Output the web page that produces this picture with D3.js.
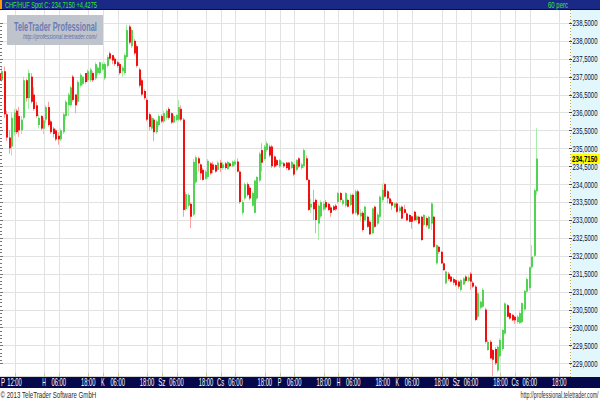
<!DOCTYPE html>
<html><head><meta charset="utf-8">
<script src="https://cdn.jsdelivr.net/npm/d3@7"></script>
<style>html,body{margin:0;padding:0;background:#fff;overflow:hidden}</style>
</head><body><svg id="c" width="600" height="400"></svg>
<script>
// ---------- DATA ----------
const titleText = "CHF/HUF Spot C: 234,7150 +4,4275";
const periodText = "60 perc";
const lastPrice = 234.715;
const FIRST_HOUR = 6; // hourly bars, trading hours counted from Friday 00:00 (weekend removed)

const open = [
237.10,236.90,237.15,235.95,235.30,235.05,235.45,236.05,235.90,235.50,235.85,236.90,236.40,237.00,236.50,236.20,235.65,235.90,
235.55,235.80,236.15,235.75,235.55,235.50,235.35,235.25,235.45,235.90,236.20,236.20,237.00,236.50,236.30,236.75,236.80,237.10,236.90,236.90,237.10,236.95,237.10,237.10,
237.20,236.95,237.30,237.65,237.60,237.50,237.40,
237.35,237.15,237.10,237.55,238.40,237.85,238.00,237.85,237.20,236.90,236.60,236.35,235.95,235.55,235.80,235.45,235.65,235.90,235.75,235.85,236.10,235.98,235.72,235.79,235.80,236.10,
235.80,233.30,233.40,233.45,233.15,234.05,234.72,234.55,234.40,234.15,234.20,234.58,234.55,234.53,234.40,234.60,234.45,234.58,234.42,234.58,234.50,234.55,234.63,234.35,
233.20,233.60,234.00,233.90,233.40,233.20,233.60,234.10,234.95,234.70,234.95,235.05,235.05,234.77,234.67,234.49,234.60,234.58,234.60,234.60,234.45,234.55,234.40,234.72,
234.45,234.50,234.72,234.12,233.35,233.50,233.56,232.90,233.10,233.30,233.50,233.45,233.35,233.38,233.40,233.50,233.75,233.45,233.40,233.56,
233.42,233.70,233.20,233.80,233.10,233.20,232.99,233.09,232.95,232.63,233.37,232.90,233.09,233.56,234.00,233.80,233.60,233.50,233.35,233.46,
233.25,233.37,233.30,233.18,233.14,233.10,233.23,233.00,233.09,233.09,232.86,233.05,232.76,232.90,233.09,231.79,232.25,232.11,231.79,231.23,
231.50,231.42,231.35,231.32,231.28,231.05,231.20,231.42,231.30,231.50,231.25,231.14,230.30,230.55,230.58,230.50,229.37,229.60,229.37,229.40,
228.80,229.20,229.40,229.83,230.62,230.40,230.35,230.30,230.15,230.12,230.15,230.50,231.00,231.10,231.68,232.00,233.80];

const high = [
237.25,237.30,237.28,236.05,235.50,236.00,236.10,236.10,236.16,235.90,237.00,236.95,237.20,237.10,236.70,236.30,235.95,235.93,
235.85,236.20,236.30,235.80,235.60,235.55,235.45,235.55,236.00,236.35,236.55,236.75,237.05,236.50,236.90,237.10,237.00,237.10,237.20,237.25,237.15,237.40,237.30,237.42,
237.40,237.40,237.60,237.70,237.60,237.55,237.45,
237.40,237.30,237.65,238.45,238.45,238.35,238.05,237.90,237.25,236.95,236.65,236.40,236.00,235.90,235.85,235.80,235.95,235.95,236.05,236.10,236.15,236.00,235.95,235.95,236.35,236.20,
235.85,233.78,233.75,233.50,234.70,234.80,234.77,234.58,234.45,234.40,234.70,234.62,234.63,234.55,234.65,234.68,234.62,234.62,234.65,234.60,234.66,234.68,234.72,234.38,
233.56,234.05,234.05,233.95,233.80,234.12,234.22,234.90,235.14,235.10,235.20,235.10,235.10,234.80,234.70,234.70,234.65,234.62,234.62,234.62,234.65,234.58,234.70,234.75,
234.60,235.00,234.80,234.15,233.60,233.84,233.60,233.46,233.55,233.52,233.56,233.48,233.40,233.42,233.45,233.78,233.78,233.60,233.78,233.60,
233.74,233.74,233.85,233.85,233.30,233.25,233.40,233.12,232.98,233.35,233.40,233.20,233.68,234.02,234.02,233.84,233.63,233.56,233.50,233.50,
233.40,233.40,233.42,233.22,233.16,233.12,233.26,233.15,233.12,233.12,233.16,233.10,233.12,233.50,233.12,232.32,232.28,232.14,231.82,231.58,
231.55,231.45,231.40,231.35,231.32,231.35,231.40,231.46,231.45,231.55,231.30,231.18,230.98,230.75,231.10,230.55,229.65,229.65,229.40,229.45,
229.50,229.70,229.96,230.70,230.65,230.42,230.38,230.32,230.35,230.45,230.70,231.05,231.40,231.70,232.30,233.88,235.56];

const low = [
236.80,236.85,235.85,235.20,234.85,234.80,235.35,235.40,235.32,235.40,235.80,236.30,236.10,236.25,236.05,235.85,235.55,235.50,
235.40,235.70,235.60,235.40,235.30,235.20,235.10,235.20,235.40,235.80,235.90,236.15,236.30,235.98,236.25,236.70,236.75,236.80,236.85,236.85,236.85,236.90,237.05,237.05,
237.15,236.90,237.25,237.45,237.35,237.30,237.25,
237.05,237.00,237.05,237.50,237.90,237.80,237.60,237.25,236.70,236.45,236.35,235.75,235.50,235.50,235.20,235.40,235.60,235.70,235.70,235.80,235.80,235.68,235.70,235.75,235.75,235.75,
233.09,233.25,233.35,232.77,233.10,234.00,234.35,234.12,234.10,234.12,234.15,234.25,234.30,234.32,234.38,234.33,234.40,234.40,234.40,234.47,234.47,234.50,234.33,233.45,
233.13,233.55,233.65,233.55,233.37,233.18,233.55,234.05,234.35,234.65,234.90,234.75,234.45,234.45,234.50,234.45,234.55,234.45,234.40,234.38,234.42,234.22,234.35,234.45,
234.40,234.45,234.10,233.25,233.20,233.00,232.63,232.44,233.05,233.25,233.28,233.25,233.09,233.25,233.25,233.45,233.50,233.40,233.35,233.35,
233.38,233.15,233.15,233.10,232.95,232.68,232.95,232.78,232.58,232.60,232.78,232.85,233.05,233.50,233.62,233.46,233.44,233.28,233.32,233.20,
233.20,233.02,233.18,232.97,232.93,232.76,232.97,232.95,232.88,232.42,232.82,232.80,232.74,232.72,232.22,231.75,232.05,231.77,231.58,231.20,
231.30,231.26,231.18,231.14,231.08,231.00,231.18,231.25,231.26,231.05,231.10,230.18,230.25,230.50,230.55,229.55,229.35,229.12,228.62,228.95,
228.75,229.15,229.35,229.80,230.28,230.22,230.18,230.10,230.10,230.10,230.12,230.45,230.95,231.04,231.62,231.95,233.70];

const close = [
236.90,237.15,235.95,235.30,235.00,235.85,236.00,235.45,235.50,235.80,236.90,236.40,237.10,236.30,236.10,235.90,235.85,235.55,
235.78,236.15,235.65,235.45,235.40,235.25,235.25,235.50,235.95,236.30,236.50,236.70,236.35,236.20,236.85,237.05,237.00,236.85,237.15,237.20,236.90,237.35,237.25,237.40,
237.35,237.35,237.55,237.50,237.45,237.35,237.30,
237.10,237.25,237.60,238.30,237.95,238.30,237.65,237.30,236.75,236.50,236.40,235.80,235.60,235.85,235.45,235.75,235.90,235.75,235.98,236.05,235.85,235.72,235.90,235.93,236.15,235.80,
233.28,233.72,233.70,233.09,234.62,234.75,234.58,234.30,234.12,234.35,234.65,234.30,234.40,234.35,234.60,234.45,234.55,234.45,234.62,234.50,234.63,234.63,234.35,233.50,
233.50,234.00,233.70,233.60,233.75,234.10,234.20,234.85,234.60,235.05,235.14,234.80,234.50,234.49,234.53,234.67,234.60,234.50,234.45,234.40,234.62,234.27,234.67,234.49,
234.55,234.95,234.12,233.28,233.45,233.30,233.00,233.40,233.50,233.45,233.35,233.28,233.20,233.28,233.30,233.75,233.56,233.55,233.75,233.37,
233.70,233.18,233.80,233.15,233.20,232.72,233.37,232.81,232.60,233.32,232.81,233.15,233.65,233.84,233.65,233.60,233.46,233.40,233.46,233.23,
233.35,233.04,233.20,232.99,232.95,232.95,232.99,233.10,232.90,232.44,233.14,232.85,233.09,233.46,232.25,232.30,232.11,231.79,231.60,231.56,
231.35,231.28,231.25,231.18,231.14,231.32,231.37,231.30,231.40,231.28,231.14,230.21,230.95,230.72,231.05,229.60,229.60,229.14,229.10,229.00,
229.46,229.65,229.93,230.67,230.30,230.25,230.20,230.20,230.30,230.40,230.68,231.02,231.35,231.68,231.98,233.83,234.715];

const yTickValues = [229.0,229.5,230.0,230.5,231.0,231.5,232.0,232.5,233.0,233.5,234.0,234.5,235.0,235.5,236.0,236.5,237.0,237.5,238.0,238.5];
const xTickHours  = [12,24,30,42,48,54,66,72,78,90,96,102,114,120,126,138,144,150,162,168,174,186,192,198,210,216,222,234];
const xTickLabels = ["12:00","H","06:00","18:00","K","06:00","18:00","Sz","06:00","18:00","Cs","06:00","18:00","P","06:00","18:00","H","06:00","18:00","K","06:00","18:00","Sz","06:00","18:00","Cs","06:00","18:00"];
const firstDayLabel = "P";
const footerLeft = "\u00A9 2013 TeleTrader Software GmbH";
const footerRight = "http://professional.teletrader.com/";
const logoTitle = "TeleTrader Professional";
const logoUrl = "http://professional.teletrader.com/";

// ---------- LAYOUT ----------
const W = 600, H = 400;
const plotL = 0, plotR = 570, plotT = 10, plotB = 376;
const FONT = "'Liberation Sans Narrow','Liberation Sans',Arial,sans-serif";

const svg = d3.select("#c");
const x = d3.scaleLinear().domain([24, 234]).range([44, 559.3]);
const y = d3.scaleLinear().domain([229, 238.5]).range([363.3, 22.9]);
const fmt = v => d3.format(".4f")(v).replace(".", ",");

// draw a text horizontally condensed to a target width (bitmap-like narrow font)
function label(parent, str, tx, ty, width, opts) {
  const o = Object.assign({size: 10, fill: "#000", anchor: "start", weight: "normal", style: "normal"}, opts || {});
  const t = parent.append("text").attr("x", 0).attr("y", 0).text(str)
    .attr("font-family", FONT).attr("font-size", o.size).attr("font-weight", o.weight)
    .attr("font-style", o.style).attr("fill", o.fill).attr("text-anchor", o.anchor);
  const natural = t.node().getComputedTextLength() || width;
  const s = width / natural;
  t.attr("transform", `translate(${tx},${ty}) scale(${s},1)`);
  return t;
}

svg.append("rect").attr("width", W).attr("height", H).attr("fill", "#ffffff");

svg.append("defs").append("clipPath").attr("id", "plotclip")
  .append("rect").attr("x", plotL).attr("y", plotT).attr("width", plotR - plotL).attr("height", plotB - plotT);

// grid
const grid = svg.append("g").attr("shape-rendering", "crispEdges");
grid.selectAll("line.h").data(yTickValues).join("line")
  .attr("x1", plotL).attr("x2", plotR)
  .attr("y1", d => Math.round(y(d)) + 0.5).attr("y2", d => Math.round(y(d)) + 0.5)
  .attr("stroke", "#e2e2e2").attr("stroke-width", 1);
grid.selectAll("line.v").data(xTickHours).join("line")
  .attr("x1", d => Math.round(x(d)) + 0.5).attr("x2", d => Math.round(x(d)) + 0.5)
  .attr("y1", plotT).attr("y2", plotB)
  .attr("stroke", "#e2e2e2").attr("stroke-width", 1);

// logo
const logo = svg.append("g");
logo.append("rect").attr("x", 7).attr("y", 15).attr("width", 96).attr("height", 30)
  .attr("fill", "#bfc3cc");
label(logo, logoTitle, 14, 30.5, 83, {size: 12, weight: "bold", fill: "#6b7db3"});
label(logo, logoUrl, 23, 39, 74, {size: 6.5, style: "italic", fill: "#5f70a8"});

// candles
const bars = d3.range(open.length).map(i => ({
  h: FIRST_HOUR + i, o: open[i], hi: high[i], lo: low[i], c: close[i]
}));
const cg = svg.append("g").attr("clip-path", "url(#plotclip)");
const colorOf = d => d.c > d.o ? {body:"#52d452", wick:"#a6eca6"} :
                     d.c < d.o ? {body:"#f01010", wick:"#ffa0a0"} :
                                 {body:"#20d8e8", wick:"#9ef0f8"};
const cand = cg.selectAll("g.c").data(bars).join("g");
cand.append("line")
  .attr("x1", d => Math.round(x(d.h)) - 0.5).attr("x2", d => Math.round(x(d.h)) - 0.5)
  .attr("y1", d => y(d.hi)).attr("y2", d => y(d.lo))
  .attr("stroke", d => colorOf(d).wick).attr("stroke-width", 1);
cand.append("rect")
  .attr("x", d => Math.round(x(d.h)) - 1).attr("width", 2)
  .attr("y", d => y(Math.max(d.o, d.c)))
  .attr("height", d => Math.max(1, Math.abs(y(d.o) - y(d.c))))
  .attr("fill", d => colorOf(d).body);

// left edge minor ticks
const leftTicks = d3.range(2290, 2386, 1).map(v => v / 10);
svg.append("g").attr("shape-rendering", "crispEdges").selectAll("line").data(leftTicks).join("line")
  .attr("x1", 0).attr("x2", (d, i) => (i % 5 === 0 ? 3 : 1.5))
  .attr("y1", d => Math.round(y(d)) + 0.5).attr("y2", d => Math.round(y(d)) + 0.5)
  .attr("stroke", "#777");

// bottom strip line and ticks
svg.append("line").attr("x1", 0).attr("x2", plotR).attr("y1", 376.5).attr("y2", 376.5)
  .attr("stroke", "#d4d4d4");
svg.append("g").selectAll("line").data(xTickHours).join("line")
  .attr("x1", d => Math.round(x(d)) + 0.5).attr("x2", d => Math.round(x(d)) + 0.5)
  .attr("y1", 373).attr("y2", 377).attr("stroke", "#c8c89a");

// right axis panel
svg.append("rect").attr("x", 571).attr("y", plotT).attr("width", 29).attr("height", 367)
  .attr("fill", "#e2f7fc");
svg.append("line").attr("x1", 570.5).attr("x2", 570.5).attr("y1", plotT).attr("y2", 377)
  .attr("stroke", "#b8a850").attr("stroke-dasharray", "1,2");
const yAxis = svg.append("g");
yAxis.selectAll("line").data(yTickValues).join("line")
  .attr("x1", 569).attr("x2", 572)
  .attr("y1", d => Math.round(y(d)) + 0.5).attr("y2", d => Math.round(y(d)) + 0.5)
  .attr("stroke", "#444");
yTickValues.forEach(v => label(yAxis, fmt(v), 572.5, y(v) + 3.4, 25, {size: 9.5, fill: "#0c0c30"}));

// last price marker
const lp = svg.append("g");
lp.append("rect").attr("x", 571).attr("y", Math.round(y(lastPrice)) - 5).attr("width", 29).attr("height", 10)
  .attr("fill", "#ffff00");
label(lp, fmt(lastPrice), 572, y(lastPrice) + 3.2, 25.5, {size: 9, weight: "bold", fill: "#000"});

// header
svg.append("rect").attr("x", 0).attr("y", 0).attr("width", W).attr("height", 9).attr("fill", "#1a2886");
svg.append("line").attr("x1", 0).attr("x2", W).attr("y1", 9.5).attr("y2", 9.5).attr("stroke", "#0a1040");
svg.append("rect").attr("x", 0).attr("y", 0).attr("width", 2).attr("height", 9).attr("fill", "#ff9a00");
const hdr = svg.append("g");
label(hdr, titleText, 5, 8.3, 92, {size: 9, fill: "#33e833"});
label(hdr, periodText, 548, 8.3, 20, {size: 9, fill: "#33e833"});

// bottom time axis bar
svg.append("rect").attr("x", 0).attr("y", 377).attr("width", W).attr("height", 11).attr("fill", "#06084c");
const xa = svg.append("g");
label(xa, firstDayLabel, 1, 386.3, 4, {size: 10, fill: "#ffffff"});
xTickHours.forEach((hr, i) => {
  const s = xTickLabels[i];
  label(xa, s, x(hr), 386.3, s.length > 2 ? 14.5 : s.length * 3.6, {size: 10, fill: "#ffffff", anchor: "middle"});
});

// footer
const ft = svg.append("g");
label(ft, footerLeft, 0.5, 397.5, 96, {size: 9, fill: "#2a2a2a"});
label(ft, footerRight, 598.5, 397.5, 78, {size: 8.5, fill: "#2a2a2a", anchor: "end"});
</script></body></html>
